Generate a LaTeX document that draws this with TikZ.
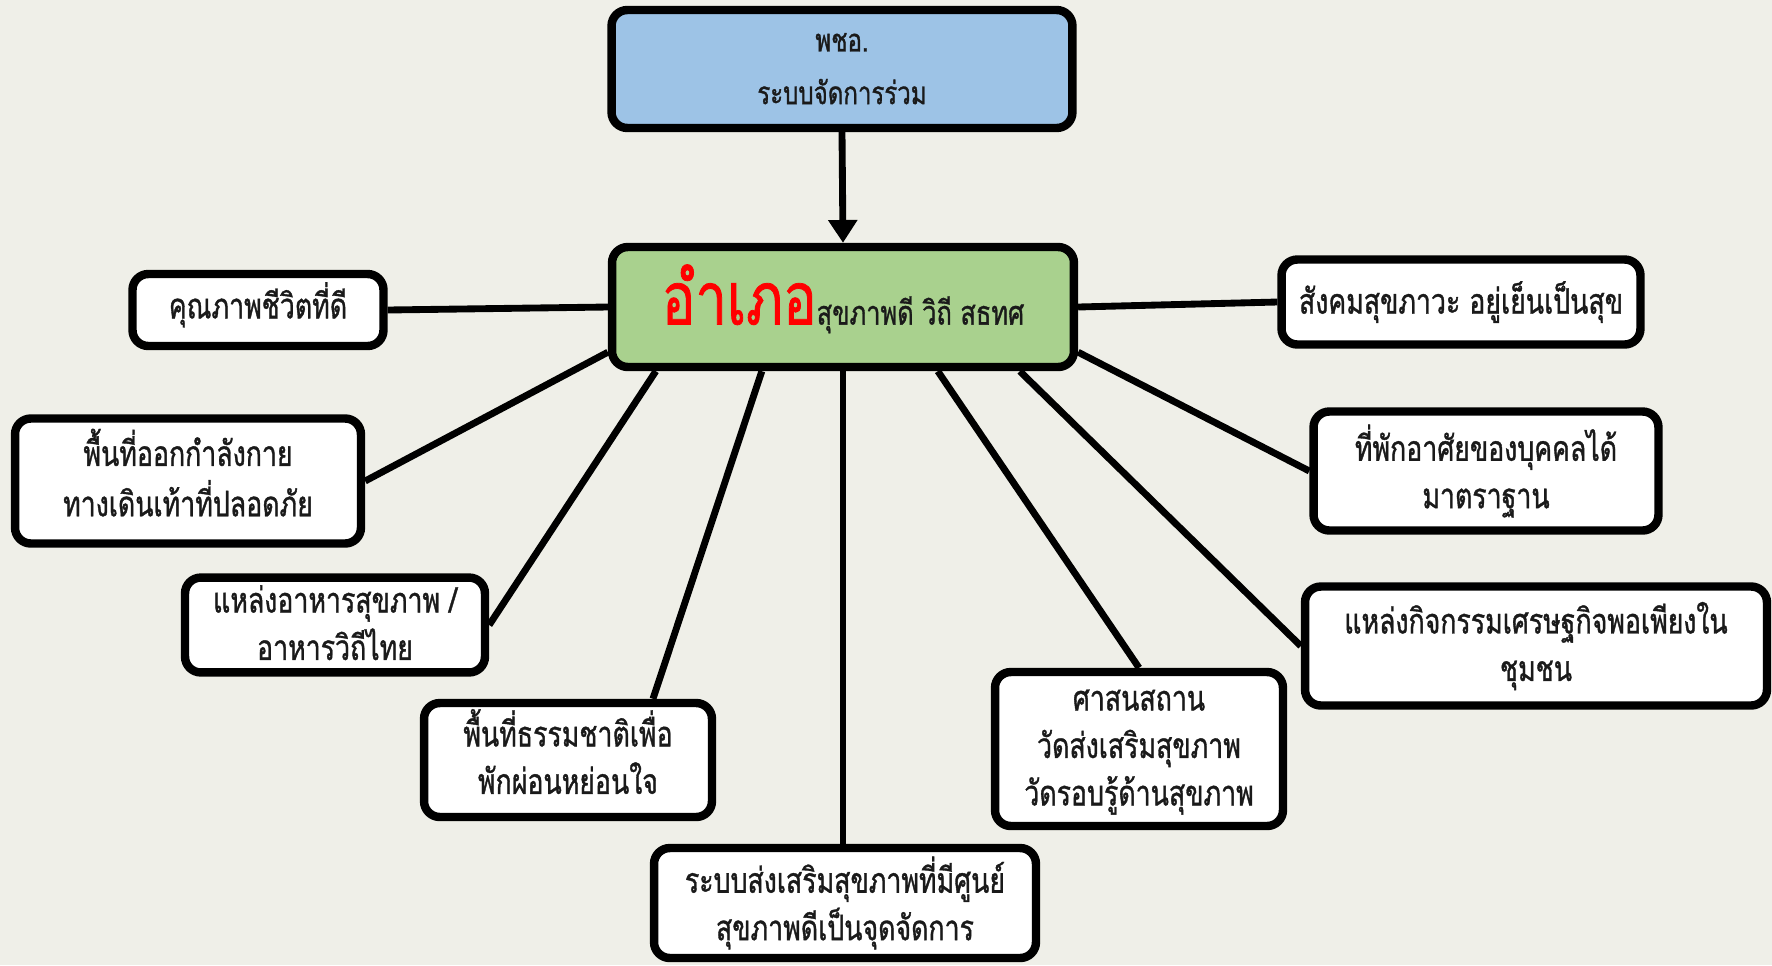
\documentclass[tikz,border=0pt]{standalone}
\usepackage{fontspec}
\newfontfamily\thaifont[Script=Thai, FakeStretch=0.76, FakeBold=1]{Loma}
\usetikzlibrary{calc,arrows.meta}
\definecolor{bgc}{HTML}{EFEFE8}
\definecolor{topblue}{HTML}{9DC3E6}
\definecolor{cgreen}{HTML}{A9D18E}
\definecolor{txt}{HTML}{1A1A1A}
\newcommand{\liftup}[2]{\raisebox{#1}[\height][\depth]{\begin{tabular}{@{}c@{}}#2\end{tabular}}}
\pgfdeclarelayer{bglayer}
\pgfdeclarelayer{lines}
\pgfsetlayers{bglayer,lines,main}
\tikzset{
  box/.style={draw=black, line width=4.8pt, rounded corners=9pt, fill=white,
    align=center, inner sep=0pt, text=txt,
    font=\thaifont\fontsize{20}{27}\selectfont},
  conn/.style={draw=black, line width=3.9pt},
}
\begin{document}
\begin{tikzpicture}[x=0.02cm, y=-0.02cm]
\begin{pgfonlayer}{bglayer}
\fill[bgc] (0,0) rectangle (1772,965);
\end{pgfonlayer}
\useasboundingbox (0,0) rectangle (1772,965);

\node[box, fill=topblue, minimum width=9.22cm, minimum height=2.36cm,
  font=\thaifont\fontsize{18}{30}\selectfont] (top) at (842,69) {\liftup{1pt}{พชอ.\\ระบบจัดการร่วม}};
\node[box, fill=cgreen, minimum width=9.24cm, minimum height=2.40cm,
  font=\thaifont\fontsize{19}{24}\selectfont] (c) at (843,307)
  {\liftup{3.5pt}{{\fontsize{42}{42}\selectfont\color{red}อำเภอ}สุขภาพดี วิถี สธทศ}};

\node[box, minimum width=5.02cm, minimum height=1.44cm] (q) at (258,310) {\liftup{1.5pt}{คุณภาพชีวิตที่ดี}};
\node[box, minimum width=6.92cm, minimum height=2.50cm] (p) at (188,481) {\liftup{0.8pt}{พื้นที่ออกกำลังกาย\\ทางเดินเท้าที่ปลอดภัย}};
\node[box, minimum width=6.00cm, minimum height=1.72cm] (f) at (335,625) {\liftup{-1pt}{แหล่งอาหารสุขภาพ /\\อาหารวิถีไทย}};
\node[box, minimum width=5.76cm, minimum height=2.28cm] (n) at (568,760) {\liftup{0.8pt}{พื้นที่ธรรมชาติเพื่อ\\พักผ่อนหย่อนใจ}};
\node[box, minimum width=7.64cm, minimum height=2.20cm] (b) at (845,903) {ระบบส่งเสริมสุขภาพที่มีศูนย์\\สุขภาพดีเป็นจุดจัดการ};
\node[box, minimum width=5.76cm, minimum height=3.08cm] (r) at (1139,749) {\liftup{0.3pt}{ศาสนสถาน\\วัดส่งเสริมสุขภาพ\\วัดรอบรู้ด้านสุขภาพ}};
\node[box, minimum width=9.24cm, minimum height=2.38cm] (e) at (1536,646) {แหล่งกิจกรรมเศรษฐกิจพอเพียงใน\\ชุมชน};
\node[box, minimum width=6.90cm, minimum height=2.38cm] (h) at (1486,471) {ที่พักอาศัยของบุคคลได้\\มาตราฐาน};
\node[box, minimum width=7.18cm, minimum height=1.70cm] (s) at (1461,302) {สังคมสุขภาวะ อยู่เย็นเป็นสุข};

\begin{pgfonlayer}{lines}
\draw[conn, -{Triangle[width=16pt,length=13pt]}] (top.south) -- (c.north);
\draw[conn] (c.west) -- (q.east);
\draw[conn] ($(c.south west)+(0,-19)$) -- (p.east);
\draw[conn] ($(c.south west)+(48,0)$) -- (f.east);
\draw[conn] ($(c.south west)+(154,0)$) -- ($(n.north)+(85,0)$);
\draw[conn] (c.south) -- (c.south |- b.north);
\draw[conn] ($(c.south west)+(330,0)$) -- (r.north);
\draw[conn] ($(c.south west)+(412,0)$) -- (e.west);
\draw[conn] ($(c.south east)+(0,-19)$) -- (h.west);
\draw[conn] (c.east) -- (s.west);
\end{pgfonlayer}
\end{tikzpicture}
\end{document}
